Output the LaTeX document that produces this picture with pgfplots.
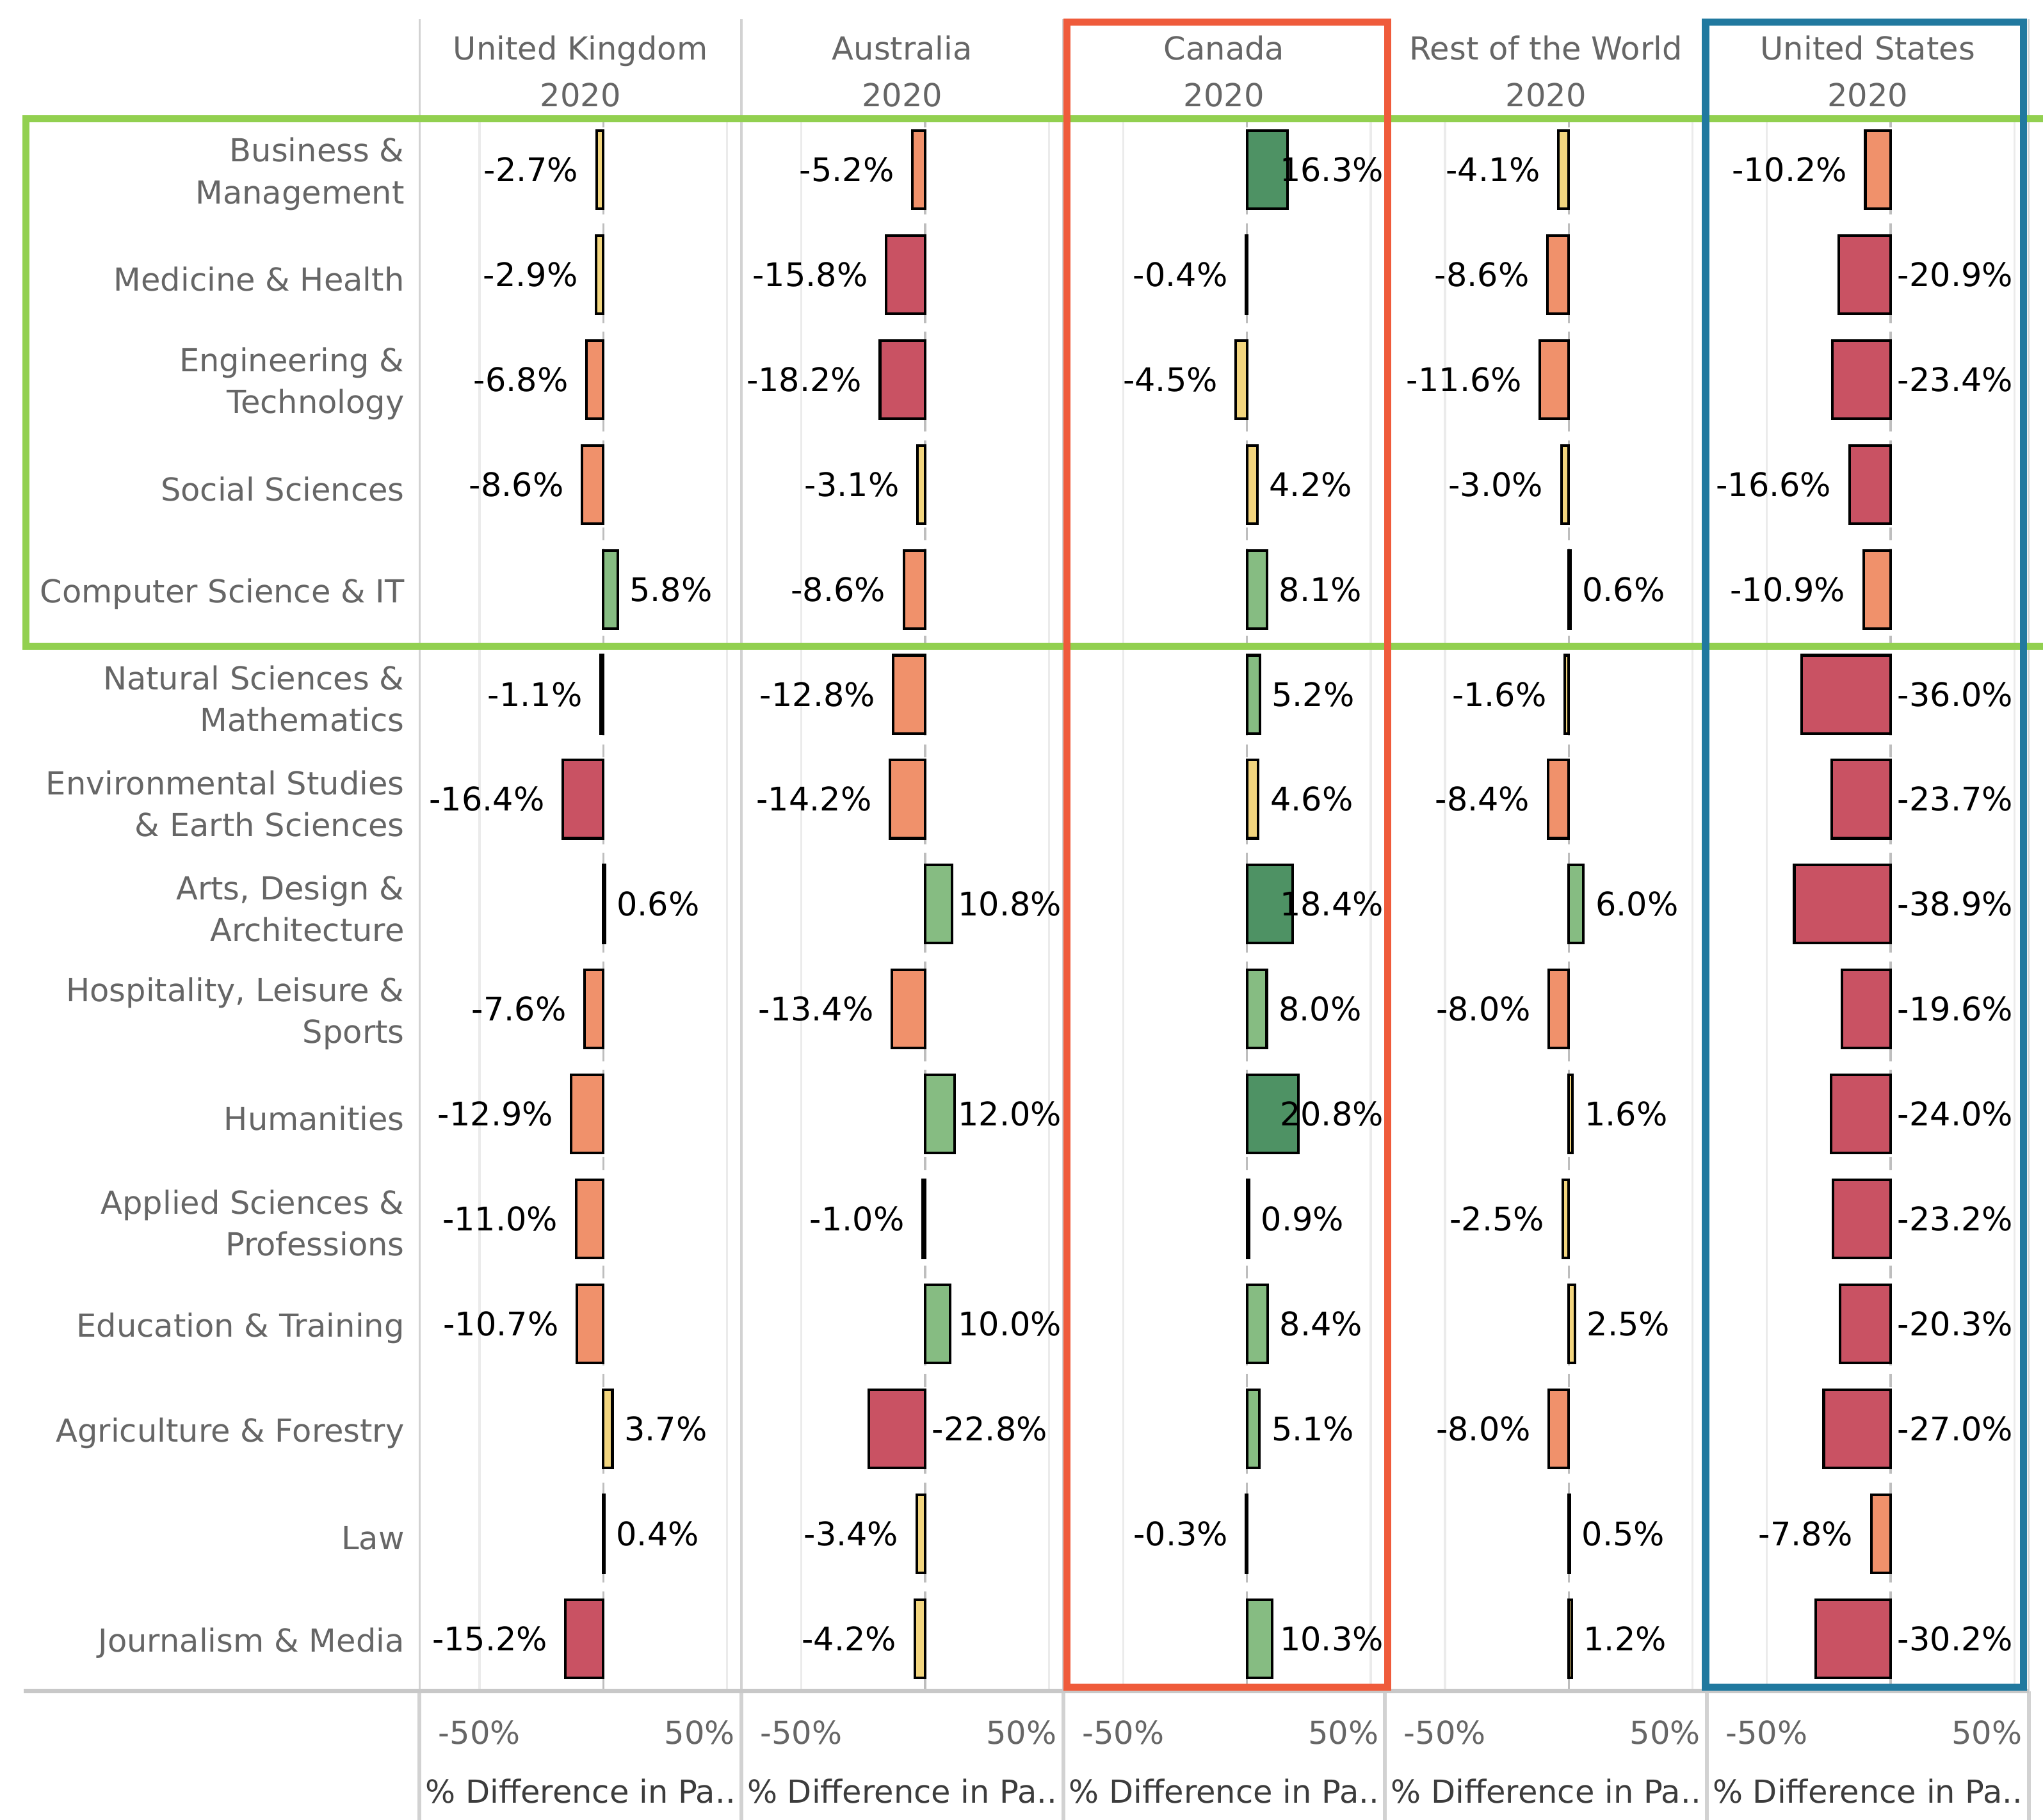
\documentclass[border=0pt]{standalone}
\usepackage{pgfplots}
\pgfplotsset{compat=1.18}
\usepackage{pgfplotstable}
\usepackage{fontspec}
\setmainfont{DejaVu Sans}

\definecolor{cDG}{HTML}{4E9264}
\definecolor{cLG}{HTML}{86BC82}
\definecolor{cYe}{HTML}{F2D57E}
\definecolor{cOr}{HTML}{F0916B}
\definecolor{cRe}{HTML}{C95263}
\definecolor{txtgray}{HTML}{666666}
\definecolor{labc}{HTML}{3C3C3C}
\definecolor{gridc}{HTML}{EBEBEB}
\definecolor{zeroc}{HTML}{BEBEBE}
\definecolor{sepc}{HTML}{D2D2D2}
\definecolor{axc}{HTML}{C8C8C8}
\definecolor{hlgreen}{HTML}{92D050}
\definecolor{hlred}{HTML}{EF5B3B}
\definecolor{hlblue}{HTML}{21799F}

% % difference per subject (rows top to bottom) and destination
\pgfplotstableread{
row uk au ca rw us
0 -2.7 -5.2 16.3 -4.1 -10.2
1 -2.9 -15.8 -0.4 -8.6 -20.9
2 -6.8 -18.2 -4.5 -11.6 -23.4
3 -8.6 -3.1 4.2 -3.0 -16.6
4 5.8 -8.6 8.1 0.6 -10.9
5 -1.1 -12.8 5.2 -1.6 -36.0
6 -16.4 -14.2 4.6 -8.4 -23.7
7 0.6 10.8 18.4 6.0 -38.9
8 -7.6 -13.4 8.0 -8.0 -19.6
9 -12.9 12.0 20.8 1.6 -24.0
10 -11.0 -1.0 0.9 -2.5 -23.2
11 -10.7 10.0 8.4 2.5 -20.3
12 3.7 -22.8 5.1 -8.0 -27.0
13 0.4 -3.4 -0.3 0.5 -7.8
14 -15.2 -4.2 10.3 1.2 -30.2
}\data

\newcommand{\fs}{\fontsize{7.3pt}{9.6pt}\selectfont}

\pgfplotsset{
  panel/.style={
    scale only axis, width=74.1pt, height=362.4pt, anchor=north west,
    xmin=-74.2, xmax=55.8, ymin=-14.5, ymax=0.5,
    axis line style={draw=none}, major tick length=0pt,
    xtick={-50}, xticklabels={-50\%},
    extra x ticks={50}, extra x tick labels={50\%},
    extra x tick style={grid=major, xticklabel style={xshift=-6.3pt}},
    xmajorgrids, grid style={gridc, line width=0.5pt},
    xticklabel style={font=\fs, text=txtgray, anchor=base, inner sep=0pt, yshift=-12.3pt},
    ytick=\empty,
    xlabel={\% Difference in Pa..},
    xlabel style={font=\fs, text=labc, at={(axis description cs:0.5,0)}, anchor=base, inner sep=0pt, yshift=-25.8pt},
    title style={font=\fontsize{7.3pt}{10.8pt}\selectfont, text=txtgray, align=center,
      at={(axis description cs:0.5,1)}, anchor=south, inner sep=0pt, yshift=-3.9pt},
    clip=false,
    /pgf/number format/assume math mode=true,
  },
  hbar/.style={xbar, bar width=0.745, draw=black, line width=0.6pt},
  vlab/.style={draw=none, mark=none,
    nodes near coords={\pgfmathprintnumber[fixed,fixed zerofill,precision=1]{\pgfplotspointmeta}\%},
    nodes near coords style={font=\fontsize{7.5pt}{9pt}\selectfont, text=black, inner sep=0pt}},
}

% one country panel: #1 column, #2 left edge, #3 title, #4 extra options
\newcommand{\panel}[4]{%
\begin{axis}[panel, at={(#2,-27pt)}, title={#3\\2020}, #4]
  \addplot[densely dashed, zeroc, line width=0.5pt] coordinates {(0,-14.5) (0,0.5)};
  \addplot[hbar, fill=cDG, restrict expr to domain={\thisrow{#1}}{15:100}] table[x=#1, y expr=-\thisrow{row}]{\data};
  \addplot[hbar, fill=cLG, restrict expr to domain={\thisrow{#1}}{5:15}] table[x=#1, y expr=-\thisrow{row}]{\data};
  \addplot[hbar, fill=cYe, restrict expr to domain={\thisrow{#1}}{-5:5}] table[x=#1, y expr=-\thisrow{row}]{\data};
  \addplot[hbar, fill=cOr, restrict expr to domain={\thisrow{#1}}{-15:-5}] table[x=#1, y expr=-\thisrow{row}]{\data};
  \addplot[hbar, fill=cRe, restrict expr to domain={\thisrow{#1}}{-100:-15}] table[x=#1, y expr=-\thisrow{row}]{\data};
  % labels
  \addplot[vlab, point meta=\thisrow{#1}, restrict expr to domain={\thisrow{#1}}{0:100},
    nodes near coords style={anchor=west}] table[x expr={min(\thisrow{#1}+4.5,13)}, y expr=-\thisrow{row}]{\data};
  \addplot[vlab, point meta=\thisrow{#1}, restrict expr to domain={\thisrow{#1}}{-19:-0.01},
    nodes near coords style={anchor=east}] table[x expr=\thisrow{#1}-7, y expr=-\thisrow{row}]{\data};
  \addplot[vlab, point meta=\thisrow{#1}, restrict expr to domain={\thisrow{#1}}{-100:-19},
    nodes near coords style={anchor=west}] table[x expr=2.5, y expr=-\thisrow{row}]{\data};
\end{axis}}

\begin{document}
\begin{tikzpicture}
\panel{uk}{96.6pt}{United Kingdom}{
  ytick={-14,...,0},
  yticklabels={{Journalism \& Media}, {Law}, {Agriculture \& Forestry}, {Education \& Training},
    {Applied Sciences \&\\Professions}, {Humanities}, {Hospitality, Leisure \&\\Sports},
    {Arts, Design \&\\Architecture}, {Environmental Studies\\\& Earth Sciences},
    {Natural Sciences \&\\Mathematics}, {Computer Science \& IT}, {Social Sciences},
    {Engineering \&\\Technology}, {Medicine \& Health}, {Business \&\\Management}},
  yticklabel style={font=\fs, text=txtgray, align=right, anchor=east, inner sep=0pt, xshift=-3.3pt, yshift=-1pt}}
\panel{au}{170.7pt}{Australia}{}
\panel{ca}{244.8pt}{Canada}{}
\panel{rw}{318.9pt}{Rest of the World}{}
\panel{us}{393.0pt}{United States}{}

% panel separators and the axis base line
\foreach \x in {96.6,170.7,244.8,318.9,393.0,467.1} {
  \draw[sepc, line width=0.45pt] (\x pt,-4.5pt) -- (\x pt,-389.4pt);
  \draw[sepc, line width=0.9pt] (\x pt,-389.4pt) -- (\x pt,-419.1pt);
}
\draw[axc, line width=0.95pt] (5.4pt,-389.4pt) -- (467.1pt,-389.4pt);

% highlight boxes
\draw[hlgreen, line width=1.65pt] (476pt,-27.3pt) -- (6pt,-27.3pt) -- (6pt,-148.8pt) -- (476pt,-148.8pt);
\draw[hlred, line width=1.65pt] (245.7pt,-5.1pt) rectangle (319.5pt,-388.5pt);
\draw[hlblue, line width=1.65pt] (392.7pt,-5.1pt) rectangle (465.9pt,-388.5pt);

\pgfresetboundingbox
\path[use as bounding box] (0pt,0pt) rectangle (470.4pt,-419.1pt);
\end{tikzpicture}
\end{document}
